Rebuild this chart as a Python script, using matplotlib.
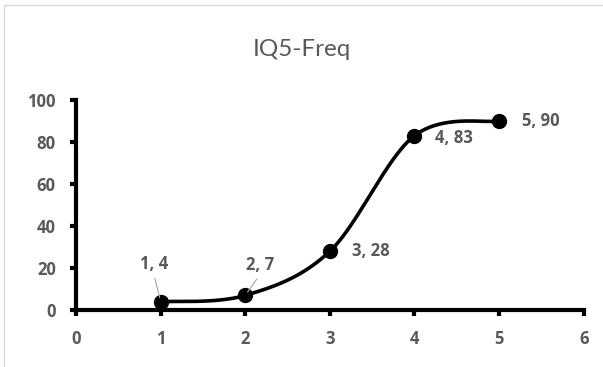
import numpy as np
import matplotlib.pyplot as plt
from matplotlib.patches import Rectangle

x_vals = [1, 2, 3, 4, 5]
freq = [4, 7, 28, 83, 90]
x_ticks = [0, 1, 2, 3, 4, 5, 6]
y_ticks = [0, 20, 40, 60, 80, 100]
title = "IQ5-Freq"

plt.rcParams['font.family'] = ['Open Sans', 'DejaVu Sans']
grey = '#595959'


def smooth_curve(xs, ys, n=60):
    # bezier segments with catmull-rom style control points
    pts = np.column_stack([xs, ys]).astype(float)
    ext = np.vstack([pts[0], pts, pts[-1]])
    out = []
    for i in range(len(pts) - 1):
        p0, p1, p2, p3 = ext[i], ext[i + 1], ext[i + 2], ext[i + 3]
        c1 = p1 + (p2 - p0) / 6.0
        c2 = p2 - (p3 - p1) / 6.0
        t = np.linspace(0, 1, n)[:, None]
        seg = ((1 - t) ** 3) * p1 + 3 * ((1 - t) ** 2) * t * c1 + 3 * (1 - t) * t ** 2 * c2 + t ** 3 * p2
        out.append(seg)
    out = np.vstack(out)
    return out[:, 0], out[:, 1]


fig = plt.figure(figsize=(6.03, 3.67), dpi=100)
fig.patches.append(Rectangle((4 / 603, -0.1), 1.1, 1.1 - 5 / 367, transform=fig.transFigure,
                             fill=False, edgecolor='#d9d9d9', linewidth=1))
ax = fig.add_axes([0.126, 0.155, 0.842, 0.5725])

sx, sy = smooth_curve(x_vals, freq)
ax.plot(sx, sy, color='black', linewidth=2.6, solid_capstyle='round')
ax.plot(x_vals, freq, 'o', color='black', markersize=10)

ax.set_xlim(0, 6)
ax.set_ylim(0, 100)
ax.set_xticks(x_ticks)
ax.set_yticks(y_ticks)
for s in ['top', 'right']:
    ax.spines[s].set_visible(False)
for s in ['left', 'bottom']:
    ax.spines[s].set_linewidth(3)
    ax.spines[s].set_color('black')
    ax.spines[s].set_capstyle('projecting')
ax.tick_params(direction='out', length=4.5, width=3, color='black',
               labelcolor=grey, labelsize=12, pad=10)
for lab in ax.get_xticklabels() + ax.get_yticklabels():
    lab.set_fontweight('bold')

fig.text(0.5, 0.865, title, ha='center', va='center', fontsize=17.5, color=grey,
         family=['Lato', 'DejaVu Sans'])

# data labels (offsets in points)
label_pos = [(-5, 27, 'center'), (11, 22, 'center'), (16, 0, 'left'), (15, -1.5, 'left'), (16.5, 0, 'left')]
for (xv, yv), (dx, dy, ha) in zip(zip(x_vals, freq), label_pos):
    txt = f"{xv}, {yv}"
    if dy > 10:
        ax.annotate(txt, (xv, yv), xytext=(dx, dy), textcoords='offset points',
                    ha=ha, va='center', fontsize=12, fontweight='bold', color=grey,
                    arrowprops=dict(arrowstyle='-', color='#a6a6a6', lw=0.8,
                                    shrinkA=2, shrinkB=3, relpos=(0.5, 0)))
    else:
        ax.annotate(txt, (xv, yv), xytext=(dx, dy), textcoords='offset points',
                    ha=ha, va='center', fontsize=12, fontweight='bold', color=grey)

fig.savefig('out.png', dpi=100)
